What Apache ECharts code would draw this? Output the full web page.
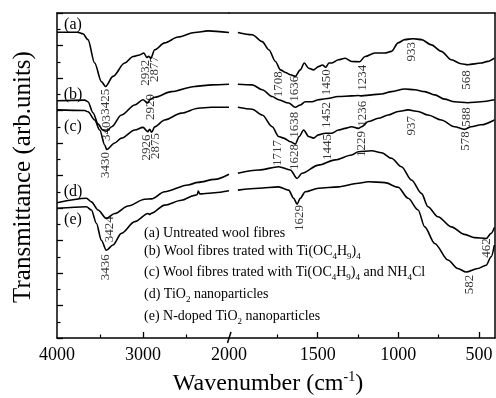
<!DOCTYPE html>
<html><head><meta charset="utf-8">
<script src="https://cdn.jsdelivr.net/npm/echarts@6/dist/echarts.min.js"></script>
<style>html,body{margin:0;padding:0;background:#fff}#c{width:496px;height:398px}</style>
</head><body><div id="c"></div>
<script>
// ---- data: [wavenumber (cm-1), transmittance (arb. units)] ----
const aLeft = [[4000,9.41],[3760,9.41],[3698,9.36],[3640,9.18],[3562,8.46],[3484,7.89],[3435,7.74],[3349,8.05],[3213,8.46],[3116,8.66],[3038,8.71],[2990,8.77],[2955,8.63],[2935,8.67],[2910,8.60],[2864,8.87],[2748,9.08],[2593,9.26],[2399,9.40],[2244,9.45],[2000,9.40]];
const aRight = [[1995,9.40],[1906,9.33],[1844,9.12],[1803,8.87],[1762,8.51],[1731,8.25],[1700,8.17],[1669,8.10],[1639,8.05],[1608,8.25],[1583,8.46],[1556,8.30],[1526,8.25],[1495,8.35],[1470,8.40],[1450,8.33],[1430,8.46],[1412,8.46],[1371,8.56],[1330,8.61],[1289,8.51],[1240,8.50],[1206,8.66],[1145,8.77],[1083,8.77],[1042,8.82],[1001,9.08],[960,9.18],[908,9.21],[856,9.18],[795,9.02],[733,8.82],[671,8.56],[610,8.44],[569,8.41],[486,8.46],[445,8.51],[404,8.61]];
const bLeft = [[4000,7.30],[3678,7.32],[3640,7.27],[3581,6.93],[3523,6.59],[3469,6.40],[3426,6.36],[3364,6.50],[3251,6.86],[3096,7.17],[3000,7.33],[2945,7.23],[2920,7.33],[2864,7.41],[2670,7.58],[2399,7.74],[2200,7.79],[2000,7.81]];
const bRight = [[1995,7.81],[1906,7.79],[1844,7.64],[1782,7.43],[1742,7.33],[1680,7.23],[1639,7.10],[1608,7.17],[1577,7.27],[1535,7.27],[1495,7.33],[1453,7.36],[1371,7.43],[1289,7.45],[1248,7.46],[1227,7.45],[1165,7.48],[1103,7.51],[1042,7.58],[960,7.66],[898,7.64],[836,7.58],[774,7.48],[713,7.35],[651,7.27],[569,7.24],[486,7.27],[404,7.33]];
const cLeft = [[4000,7.02],[3678,7.00],[3640,6.96],[3562,6.71],[3503,6.40],[3445,5.94],[3422,5.80],[3329,6.00],[3251,6.15],[3096,6.40],[3000,6.48],[2945,6.35],[2922,6.42],[2899,6.33],[2864,6.50],[2748,6.71],[2553,6.92],[2360,7.07],[2205,7.10],[2000,7.10]];
const cRight = [[1995,7.10],[1906,7.04],[1844,6.86],[1782,6.50],[1742,6.20],[1711,6.15],[1669,6.04],[1639,5.97],[1614,6.20],[1587,6.40],[1556,6.20],[1526,6.15],[1495,6.25],[1453,6.30],[1412,6.30],[1371,6.40],[1330,6.45],[1289,6.50],[1248,6.45],[1227,6.50],[1186,6.66],[1124,6.76],[1063,6.86],[1001,6.97],[939,7.02],[877,6.97],[816,6.86],[733,6.71],[651,6.50],[589,6.42],[548,6.50],[486,6.56],[404,6.71]];
const dLeft = [[4000,4.16],[3658,4.30],[3600,4.19],[3523,3.94],[3426,3.68],[3329,3.83],[3174,4.06],[2980,4.27],[2902,4.28],[2748,4.50],[2477,4.71],[2360,4.79],[2166,4.88],[2000,5.04]];
const dRight = [[1995,5.07],[1865,5.17],[1742,5.27],[1669,5.17],[1628,4.91],[1597,5.07],[1495,5.32],[1392,5.48],[1289,5.63],[1248,5.73],[1165,5.76],[1103,5.70],[1042,5.53],[980,5.27],[918,4.86],[856,4.45],[816,4.04],[754,3.73],[671,3.42],[589,3.19],[527,3.09],[455,3.06],[424,3.22],[404,3.40]];
const eLeft = [[4000,3.99],[3658,4.04],[3600,3.94],[3542,3.53],[3484,3.01],[3426,2.70],[3349,2.86],[3251,3.22],[3096,3.58],[2942,3.83],[2920,3.80],[2902,3.84],[2748,4.09],[2553,4.24],[2400,4.39],[2370,4.41],[2357,4.52],[2340,4.43],[2300,4.44],[2166,4.47],[2000,4.53]];
const eRight = [[1995,4.55],[1865,4.61],[1742,4.65],[1680,4.55],[1649,4.30],[1628,4.12],[1608,4.30],[1577,4.50],[1495,4.61],[1371,4.65],[1248,4.76],[1186,4.81],[1083,4.78],[1001,4.64],[939,4.30],[877,3.94],[836,3.42],[774,2.91],[692,2.40],[631,2.14],[579,2.03],[507,2.14],[455,2.24],[424,2.50],[404,2.86]];

// peak annotations: [wavenumber, transmittance, text]
const peaksLeft = [[3434,7.27,'3425'],[2969,8.16,'2932'],[2864,8.28,'2877'],[3422,6.46,'3403'],[2916,7.11,'2929'],[3434,5.32,'3430'],[2963,5.86,'2926'],[2858,5.91,'2875'],[3388,3.35,'3424'],[3434,2.18,'3436']];
const peaksRight = [[1740,7.81,'1708'],[1646,7.67,'1636'],[1442,7.87,'1450'],[1219,8.01,'1234'],[915,8.81,'933'],[574,7.94,'568'],[1641,6.56,'1638'],[1442,6.86,'1452'],[1219,6.90,'1236'],[1746,5.69,'1717'],[1641,5.57,'1628'],[1436,5.88,'1445'],[1225,5.97,'1229'],[915,6.53,'937'],[574,6.80,'588'],[580,6.06,'578'],[1610,3.69,'1629'],[450,2.77,'462'],[555,1.65,'582']];

const xLabelsLeft = [2000,3000,4000];
const xTicksLeft = [3000];
const xMinorLeft = [2500,3500];
const xLabelsRight = [500,1000,1500];
const xMinorRight = [750,1250,1750];

const curveNames = ['(a)','(b)','(c)','(d)','(e)'];
const legendLines = [
  '{n|(a) Untreated wool fibres}',
  '{n|(b) Wool fibres trated with Ti(OC}{s|4}{n|H}{s|9}{n|)}{s|4}',
  '{n|(c) Wool fibres trated with Ti(OC}{s|4}{n|H}{s|9}{n|)}{s|4}{n| and NH}{s|4}{n|Cl}',
  '{n|(d) TiO}{s|2}{n| nanoparticles}',
  '{n|(e) N-doped TiO}{s|2}{n| nanoparticles}'
];

const FONT = '"Liberation Serif","Times New Roman",serif';
const K = '#000';

const chart = echarts.init(document.getElementById('c'), null, {renderer:'canvas'});

function lineSeries(data, xi, yi){
  return {type:'line', data, xAxisIndex:xi, yAxisIndex:yi, showSymbol:false, symbol:'none',
    smooth:0.3, smoothMonotone:'x', lineStyle:{color:K, width:1.6}, silent:true, z:3};
}
function peakSeries(data, xi, yi){
  return {type:'scatter', data, xAxisIndex:xi, yAxisIndex:yi, symbolSize:0, silent:true, clip:false, z:4,
    label:{show:true, position:'inside', rotate:90, formatter:p=>p.value[2], color:K,
      fontFamily:FONT, fontSize:13, align:'center', verticalAlign:'middle'}};
}
const noLine = {show:false};
const axisLine = {show:true, onZero:false, lineStyle:{color:K, width:1.5}};
const plainFmt = v => String(v);

const legendY = [233, 251, 272.5, 294, 316];
const curveLabelY = [25, 94.5, 126.5, 192, 219.5];

const graphic = [];
curveNames.forEach((t,i)=>graphic.push({type:'text', x:73, y:curveLabelY[i], silent:true,
  style:{text:t, font:'16px '+FONT, fill:K, align:'center', verticalAlign:'middle', textAlign:'center', textVerticalAlign:'middle'}}));
legendLines.forEach((t,i)=>graphic.push({type:'text', x:144, y:legendY[i], silent:true,
  style:{text:t, fill:K, align:'left', verticalAlign:'middle', textAlign:'left', textVerticalAlign:'middle',
    rich:{n:{fontFamily:FONT, fontSize:14, lineHeight:20, fill:K, color:K},
          s:{fontFamily:FONT, fontSize:9, lineHeight:10, verticalAlign:'bottom', fill:K, color:K}}}}));
graphic.push({type:'text', x:268, y:384, silent:true,
  style:{text:'{n|Wavenumber (cm}{p|-1}{n|)}', fill:K, align:'center', verticalAlign:'middle', textAlign:'center', textVerticalAlign:'middle',
    rich:{n:{fontFamily:FONT, fontSize:24, lineHeight:28, fill:K, color:K},
          p:{fontFamily:FONT, fontSize:14, lineHeight:14, verticalAlign:'top', fill:K, color:K}}}});
graphic.push({type:'text', x:23, y:177, rotation:Math.PI/2, silent:true,
  style:{text:'Transmittance (arb.units)', font:'25px '+FONT, fill:K, align:'center', verticalAlign:'middle', textAlign:'center', textVerticalAlign:'middle'}});
graphic.push({type:'line', silent:true, shape:{x1:227.5, y1:343, x2:231, y2:332}, style:{stroke:K, lineWidth:1.5}});

const option = {
  animation:false,
  backgroundColor:'#fff',
  grid:[{left:57, top:13, width:172, height:325}, {left:229, top:13, width:266, height:325}],
  xAxis:[
    {type:'value', gridIndex:0, position:'bottom', min:2000, max:4000, inverse:true,
      axisLine, splitLine:noLine,
      axisTick:{show:true, inside:true, length:6, customValues:xTicksLeft, lineStyle:{color:K, width:1.3}},
      axisLabel:{show:true, customValues:xLabelsLeft, formatter:plainFmt, color:K, fontFamily:FONT, fontSize:18, margin:8}},
    {type:'value', gridIndex:0, position:'bottom', min:2000, max:4000, inverse:true,
      axisLine:noLine, splitLine:noLine, axisLabel:{show:false},
      axisTick:{show:true, inside:true, length:3.5, customValues:xMinorLeft, lineStyle:{color:K, width:1.2}}},
    {type:'value', gridIndex:1, position:'bottom', min:400, max:2050, inverse:true,
      axisLine, splitLine:noLine,
      axisTick:{show:true, inside:true, length:6, customValues:xLabelsRight, lineStyle:{color:K, width:1.3}},
      axisLabel:{show:true, customValues:xLabelsRight, formatter:plainFmt, color:K, fontFamily:FONT, fontSize:18, margin:8}},
    {type:'value', gridIndex:1, position:'bottom', min:400, max:2050, inverse:true,
      axisLine:noLine, splitLine:noLine, axisLabel:{show:false},
      axisTick:{show:true, inside:true, length:3.5, customValues:xMinorRight, lineStyle:{color:K, width:1.2}}},
    {type:'value', gridIndex:0, position:'top', min:2000, max:4000, inverse:true,
      axisLine, splitLine:noLine, axisTick:{show:false}, axisLabel:{show:false}},
    {type:'value', gridIndex:1, position:'top', min:400, max:2050, inverse:true,
      axisLine, splitLine:noLine, axisTick:{show:false}, axisLabel:{show:false}}
  ],
  yAxis:[
    {type:'value', gridIndex:0, position:'left', min:0, max:10, interval:1,
      axisLine, splitLine:noLine, axisLabel:{show:false},
      axisTick:{show:true, inside:true, length:6, lineStyle:{color:K, width:1.3}},
      minorTick:{show:true, splitNumber:2, length:3.5, lineStyle:{color:K, width:1.2}}, minorSplitLine:noLine},
    {type:'value', gridIndex:1, position:'right', min:0, max:10, interval:1,
      axisLine, splitLine:noLine, axisLabel:{show:false}, axisTick:{show:false}}
  ],
  series:[
    lineSeries(aLeft,0,0), lineSeries(aRight,2,1),
    lineSeries(bLeft,0,0), lineSeries(bRight,2,1),
    lineSeries(cLeft,0,0), lineSeries(cRight,2,1),
    lineSeries(dLeft,0,0), lineSeries(dRight,2,1),
    lineSeries(eLeft,0,0), lineSeries(eRight,2,1),
    peakSeries(peaksLeft,0,0), peakSeries(peaksRight,2,1)
  ],
  graphic
};
chart.setOption(option);
</script></body></html>
